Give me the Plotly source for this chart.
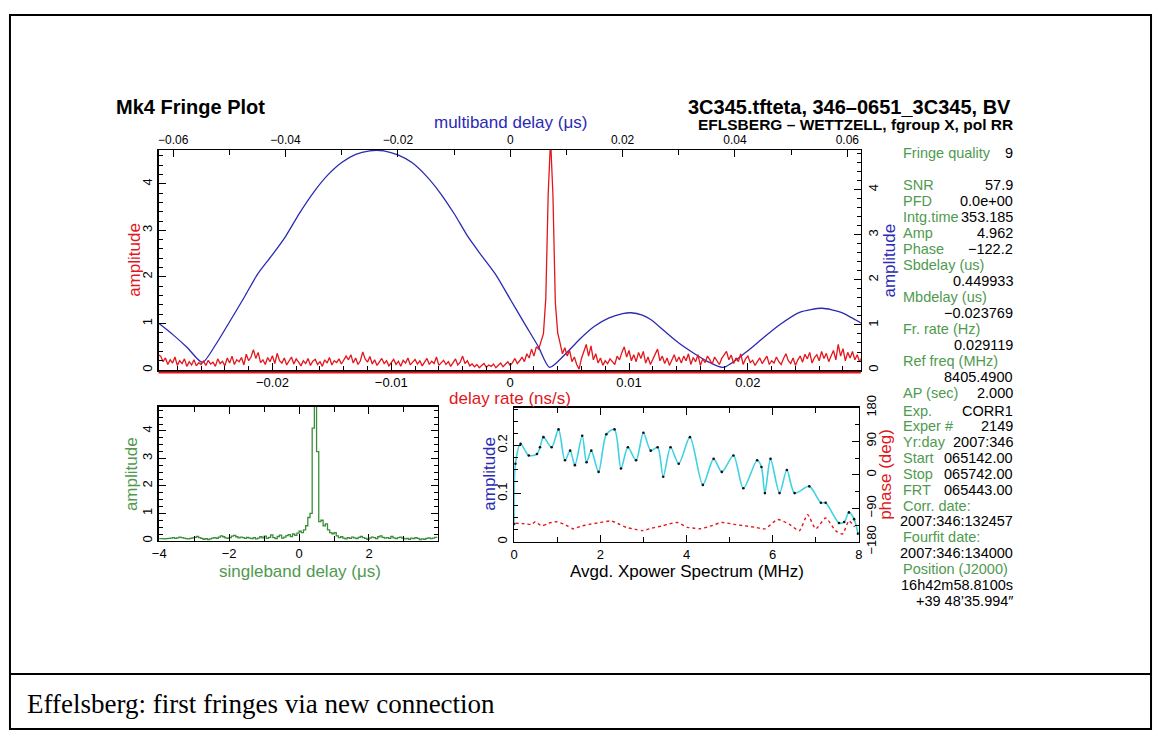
import numpy as np
import plotly.graph_objects as go

W, H = 1158, 744

# ---------------- data ----------------
# top panel, red: amplitude vs delay rate (ns/s), sampled on a uniform grid
rate_start = -0.0296
rate_step = 0.0002
rate_amp = [
    0.33,0.30,0.18,0.26,0.12,0.22,0.15,0.28,0.10,0.20,0.14,0.24,0.08,0.18,0.11,0.22,0.09,0.16,0.12,0.19,
    0.10,0.21,0.13,0.17,0.08,0.24,0.14,0.19,0.09,0.26,0.15,0.30,0.12,0.22,0.18,0.27,0.11,0.34,0.20,0.28,
    0.44,0.25,0.38,0.16,0.22,0.12,0.27,0.18,0.31,0.14,0.36,0.20,0.15,0.26,0.11,0.21,0.28,0.13,0.24,0.17,
    0.09,0.20,0.14,0.25,0.10,0.19,0.23,0.12,0.18,0.08,0.22,0.15,0.27,0.11,0.20,0.16,0.24,0.13,0.21,0.30,
    0.22,0.33,0.15,0.26,0.12,0.20,0.39,0.24,0.17,0.29,0.13,0.22,0.10,0.18,0.25,0.14,0.20,0.09,0.16,0.23,
    0.12,0.19,0.08,0.21,0.15,0.26,0.11,0.18,0.23,0.13,0.20,0.09,0.17,0.25,0.12,0.19,0.14,0.28,0.10,0.16,
    0.21,0.12,0.18,0.08,0.15,0.24,0.11,0.17,0.30,0.14,0.20,0.09,0.13,0.07,0.12,0.05,0.10,0.14,0.06,0.11,
    0.08,0.13,0.05,0.10,0.15,0.07,0.12,0.18,0.10,0.16,0.25,0.14,0.20,0.28,0.18,0.35,0.26,0.45,0.30,0.50,
    0.45,0.62,0.78,1.55,3.78,4.96,3.75,1.45,0.80,0.58,0.35,0.48,0.30,0.42,0.18,0.28,0.12,0.02,0.25,0.40,
    0.55,0.30,0.52,0.22,0.35,0.15,0.26,0.10,0.20,0.14,0.24,0.18,0.12,0.30,0.22,0.38,0.50,0.28,0.42,0.20,
    0.33,0.18,0.38,0.25,0.40,0.15,0.28,0.12,0.22,0.32,0.45,0.20,0.30,0.14,0.26,0.10,0.23,0.33,0.18,0.28,
    0.15,0.30,0.20,0.35,0.12,0.27,0.18,0.33,0.10,0.24,0.16,0.30,0.22,0.13,0.28,0.19,0.12,0.25,0.34,0.40,
    0.22,0.32,0.14,0.26,0.18,0.35,0.12,0.24,0.30,0.16,0.21,0.10,0.18,0.26,0.14,0.22,0.30,0.12,0.20,0.15,
    0.28,0.18,0.12,0.25,0.35,0.20,0.14,0.26,0.10,0.22,0.30,0.17,0.34,0.24,0.38,0.15,0.27,0.33,0.20,0.40,
    0.25,0.36,0.18,0.30,0.42,0.22,0.55,0.30,0.46,0.20,0.38,0.26,0.40,0.22,0.33,0.18,0.28,
]

# top panel, blue: amplitude vs multiband delay (us)
mbd_delay = [-0.0625,-0.0600,-0.0575,-0.0548,-0.0525,-0.0500,-0.0475,-0.0450,-0.0425,-0.0400,
             -0.0375,-0.0350,-0.0325,-0.0300,-0.0275,-0.0250,-0.0238,-0.0225,-0.0200,-0.0175,
             -0.0150,-0.0125,-0.0100,-0.0075,-0.0050,-0.0025,0.0000,0.0025,0.0050,0.0070,
             0.0100,0.0125,0.0150,0.0175,0.0200,0.0215,0.0235,0.0250,0.0275,0.0300,
             0.0326,0.0350,0.0379,0.0420,0.0450,0.0479,0.0515,0.0555,0.0589,0.0615,0.0625]
mbd_amp = [1.03,0.78,0.50,0.17,0.55,1.06,1.58,2.12,2.53,2.96,
           3.48,3.94,4.32,4.60,4.78,4.86,4.87,4.86,4.77,4.60,
           4.31,3.93,3.47,2.95,2.52,2.10,1.57,1.04,0.52,0.06,
           0.38,0.70,0.97,1.15,1.25,1.27,1.22,1.12,0.86,0.60,
           0.38,0.20,0.06,0.40,0.71,1.00,1.28,1.37,1.28,1.11,1.04]

# bottom-left, green: amplitude vs singleband delay (us)
sbd_start = -4.0
sbd_step = 0.0625
sbd_amp = [
    0.08,0.08,0.07,0.08,0.09,0.10,0.12,0.09,0.11,0.14,0.12,0.10,0.08,0.07,0.09,0.11,
    0.13,0.16,0.12,0.09,0.06,0.08,0.05,0.07,0.10,0.12,0.09,0.14,0.18,0.15,0.11,0.09,
    0.12,0.17,0.20,0.15,0.11,0.14,0.12,0.09,0.13,0.10,0.08,0.12,0.07,0.10,0.15,0.11,
    0.17,0.09,0.13,0.22,0.12,0.08,0.16,0.21,0.10,0.14,0.19,0.23,0.16,0.25,0.20,0.28,
    0.35,0.30,0.40,0.55,0.85,1.00,4.10,4.96,3.25,0.70,0.75,0.55,0.62,0.40,0.30,0.26,
    0.30,0.18,0.12,0.15,0.10,0.07,0.12,0.09,0.14,0.11,0.08,0.13,0.16,0.12,0.09,0.06,
    0.10,0.14,0.12,0.08,0.15,0.18,0.13,0.10,0.12,0.09,0.16,0.11,0.08,0.12,0.14,0.10,
    0.07,0.09,0.06,0.10,0.08,0.12,0.09,0.05,0.07,0.06,0.09,0.11,0.08,0.10,0.13,0.11,
]

# bottom-right: cross-power spectrum amplitude and phase vs frequency (MHz)
xp_freq = [0.00,0.03,0.15,0.34,0.53,0.60,0.68,0.87,1.03,1.18,1.30,1.41,1.58,1.68,1.79,1.96,
           2.14,2.33,2.48,2.64,2.83,3.00,3.17,3.33,3.46,3.63,3.82,4.08,4.38,4.63,4.82,5.09,
           5.32,5.64,5.74,5.82,5.95,6.16,6.33,6.51,6.85,7.12,7.23,7.54,7.66,7.77,7.89,7.98]
xp_amp = [0.037,0.162,0.203,0.179,0.182,0.196,0.217,0.196,0.233,0.169,0.189,0.159,0.220,0.165,0.189,0.145,
          0.223,0.233,0.152,0.196,0.169,0.226,0.189,0.196,0.135,0.196,0.162,0.217,0.118,0.172,0.145,0.179,
          0.111,0.169,0.155,0.101,0.172,0.101,0.149,0.101,0.115,0.081,0.081,0.039,0.041,0.061,0.047,0.017]
ph_freq = [0.03,0.20,0.41,0.49,0.64,0.80,0.99,1.20,1.37,1.55,1.75,2.00,2.25,2.45,2.60,2.80,2.98,3.20,3.44,3.60,
           3.79,4.02,4.15,4.32,4.55,4.82,5.10,5.36,5.60,5.82,6.12,6.39,6.62,6.81,7.00,7.23,7.46,7.62,7.77,7.90]
ph_deg = [-130,-131,-133,-126,-137,-130,-126,-135,-145,-138,-133,-128,-124,-133,-141,-146,-150,-143,-137,-132,
          -128,-141,-143,-145,-138,-128,-133,-137,-141,-145,-120,-133,-150,-107,-145,-116,-150,-159,-124,-140]
phase_ticks = [-180, -90, 0, 90, 180]

# right-hand text panel
info_block1 = [("Fringe quality", "9"), None,
               ("SNR", "57.9"), ("PFD", "0.0e+00"), ("Intg.time", "353.185"),
               ("Amp", "4.962"), ("Phase", "\u2212122.2"), ("Sbdelay (us)", ""), ("", "0.449933"),
               ("Mbdelay (us)", ""), ("", "\u22120.023769"), ("Fr. rate (Hz)", ""), ("", "0.029119"),
               ("Ref freq (MHz)", ""), ("", "8405.4900"), ("AP (sec)", "2.000")]
info_block2 = [("Exp.", "CORR1"), ("Exper #", "2149"), ("Yr:day", "2007:346"),
               ("Start", "065142.00"), ("Stop", "065742.00"), ("FRT", "065443.00"),
               ("Corr. date:", ""), ("", "2007:346:132457"), ("Fourfit date:", ""),
               ("", "2007:346:134000"), ("Position (J2000)", ""), ("", "16h42m58.8100s"),
               ("", "+39 48\u201935.994\u2033")]

title_left = "Mk4 Fringe Plot"
title_right = "3C345.tfteta, 346\u20130651_3C345, BV"
subtitle_right = "EFLSBERG \u2013 WETTZELL, fgroup X, pol RR"
caption = "Effelsberg: first fringes via new connection"

# ---------------- styling ----------------
RED = "#e2161c"
BLUE = "#2a2ab4"
GREEN_LINE = "#3a8e3a"
GREEN_TXT = "#4f9a4f"
CYAN = "#3ed2e4"
SANS = "Liberation Sans"


def px(x):
    return x / W


def py(y):
    return 1 - y / H


rate_x = rate_start + rate_step * np.arange(len(rate_amp))
sbd_x = sbd_start + sbd_step * np.arange(len(sbd_amp))

fig = go.Figure()
fig.add_trace(go.Scatter(x=mbd_delay, y=mbd_amp, xaxis="x", yaxis="y", mode="lines",
                         line=dict(color=BLUE, width=1.3, shape="spline", smoothing=0.7),
                         hoverinfo="skip"))
fig.add_trace(go.Scatter(x=rate_x, y=rate_amp, xaxis="x2", yaxis="y2", mode="lines",
                         line=dict(color=RED, width=1.3), hoverinfo="skip"))
fig.add_trace(go.Scatter(x=sbd_x, y=sbd_amp, xaxis="x3", yaxis="y3", mode="lines",
                         line=dict(color=GREEN_LINE, width=1.3, shape="hv"), hoverinfo="skip"))
fig.add_trace(go.Scatter(x=ph_freq, y=ph_deg, xaxis="x4", yaxis="y5", mode="lines",
                         line=dict(color=RED, width=1.4, dash="dot", shape="spline", smoothing=0.6),
                         hoverinfo="skip"))
fig.add_trace(go.Scatter(x=xp_freq, y=xp_amp, xaxis="x4", yaxis="y4", mode="lines+markers",
                         line=dict(color=CYAN, width=1.6, shape="spline", smoothing=0.8),
                         marker=dict(color="#111111", size=2.6), hoverinfo="skip"))

base = dict(showline=True, linecolor="black", linewidth=1.5, ticks="inside", ticklen=7,
            tickwidth=1, tickcolor="black", showgrid=False, zeroline=False,
            tickfont=dict(family=SANS, size=13, color="black"))
top_font = dict(family=SANS, size=12, color="black")

top_x = [px(153), px(862)]
top_y = [py(370), py(142)]
bl_x = [px(153), px(435)]
bl_y = [py(547), py(408)]
br_x = [px(512), px(860)]
br_y = [py(548), py(409)]

fig.update_layout(
    width=W, height=H, autosize=False,
    margin=dict(l=0, r=0, t=0, b=0),
    paper_bgcolor="white", plot_bgcolor="white",
    showlegend=False,
    xaxis=dict(base, domain=top_x, anchor="y", side="top", range=[-0.0626, 0.0624],
               tickmode="linear", tick0=0, dtick=0.02, tickfont=top_font,
               minor=dict(dtick=0.01, ticks="inside", ticklen=5, tickcolor="black")),
    yaxis=dict(base, domain=top_y, anchor="x", side="right", range=[0, 4.877],
               tickmode="linear", tick0=0, dtick=1, tickangle=-90,
               minor=dict(dtick=0.2, ticks="inside", ticklen=4, tickcolor="black")),
    xaxis2=dict(base, overlaying="x", anchor="y", side="bottom", range=[-0.02958, 0.0295],
                tickmode="linear", tick0=0, dtick=0.01,
                minor=dict(dtick=0.002, ticks="inside", ticklen=4, tickcolor="black")),
    yaxis2=dict(base, overlaying="y", anchor="x", side="left", range=[0, 4.725],
                tickmode="linear", tick0=0, dtick=1, tickangle=-90,
                minor=dict(dtick=0.2, ticks="inside", ticklen=4, tickcolor="black")),
    xaxis3=dict(base, domain=bl_x, anchor="y3", range=[-4.02, 3.97], mirror="ticks",
                tickmode="linear", tick0=0, dtick=2,
                minor=dict(dtick=1, ticks="inside", ticklen=5, tickcolor="black")),
    yaxis3=dict(base, domain=bl_y, anchor="x3", range=[0, 4.88], mirror="ticks",
                tickmode="linear", tick0=0, dtick=1, tickangle=-90,
                minor=dict(dtick=0.25, ticks="inside", ticklen=4, tickcolor="black")),
    xaxis4=dict(base, domain=br_x, anchor="y4", range=[0, 8], mirror="ticks",
                tickmode="linear", tick0=0, dtick=2,
                minor=dict(dtick=1, ticks="inside", ticklen=5, tickcolor="black")),
    yaxis4=dict(base, domain=br_y, anchor="x4", range=[0, 0.278],
                tickmode="linear", tick0=0, dtick=0.1, tickangle=-90,
                minor=dict(dtick=0.025, ticks="inside", ticklen=4, tickcolor="black")),
    yaxis5=dict(base, overlaying="y4", anchor="x4", side="right", range=[-180, 180],
                tickmode="array", tickvals=phase_ticks,
                ticktext=[("\u2212" + str(-v)) if v < 0 else str(v) for v in phase_ticks],
                tickangle=-90,
                minor=dict(dtick=45, ticks="inside", ticklen=4, tickcolor="black")),
)

anns = []


def ann(text, x, y, size, color="black", xanchor="center", yanchor="middle",
        angle=0, family=SANS, bold=False):
    if bold:
        text = "<b>" + text + "</b>"
    anns.append(dict(text=text, x=px(x), y=py(y), xref="paper", yref="paper",
                     xanchor=xanchor, yanchor=yanchor, textangle=angle, showarrow=False,
                     font=dict(family=family, size=size, color=color)))


ann(title_left, 108, 97, 20, xanchor="left", bold=True)
ann(title_right, 1016, 97, 20, xanchor="right", bold=True)
ann(subtitle_right, 1018, 116, 15.5, xanchor="right", bold=True)
ann("multiband delay (\u03bcs)", 508, 113, 17, BLUE)
ann("delay rate (ns/s)", 508, 399, 17, RED)
ann("amplitude", 128, 256, 17, RED, angle=-90)
ann("amplitude", 890, 257, 17, BLUE, angle=-90)
ann("amplitude", 125, 478, 17, GREEN_TXT, angle=-90)
ann("singleband delay (\u03bcs)", 296, 579, 17, GREEN_TXT)
ann("amplitude", 487, 477, 17, BLUE, angle=-90)
ann("Avgd. Xpower Spectrum (MHz)", 687, 579, 17, "black")
ann("phase (deg)", 887, 478, 17, RED, angle=-90)

LX, RX = 903, 1018
for i, row in enumerate(info_block1):
    if row is None:
        continue
    yy = 145 if i == 0 else 178 + 16.6 * (i - 2)
    lab, val = row
    if lab:
        ann(lab, LX, yy, 14.5, GREEN_TXT, xanchor="left")
    if val:
        ann(val, RX, yy, 14.5, "black", xanchor="right")
for i, (lab, val) in enumerate(info_block2):
    yy = 412 + 16.4 * i
    if lab:
        ann(lab, LX, yy, 14.5, GREEN_TXT, xanchor="left")
    if val:
        ann(val, RX, yy, 14.5, "black", xanchor="right")

ann(caption, 18, 716, 27, "black", xanchor="left", family="Liberation Serif")

shapes = [
    dict(type="rect", xref="paper", yref="paper", x0=px(3), x1=px(1155), y0=py(742), y1=py(2),
         line=dict(color="black", width=2)),
    dict(type="line", xref="paper", yref="paper", x0=px(3), x1=px(1155), y0=py(685), y1=py(685),
         line=dict(color="black", width=2)),
    dict(type="line", xref="paper", yref="paper", x0=px(153), x1=px(862), y0=py(372.5), y1=py(372.5),
         line=dict(color=RED, width=2)),
]

fig.update_layout(annotations=anns, shapes=shapes)
fig.write_html(
    "out.html",
    config={"displayModeBar": False, "staticPlot": True},
    post_script="document.body.style.margin='0';document.body.style.padding='0';"
                "document.body.style.overflow='hidden';",
)
